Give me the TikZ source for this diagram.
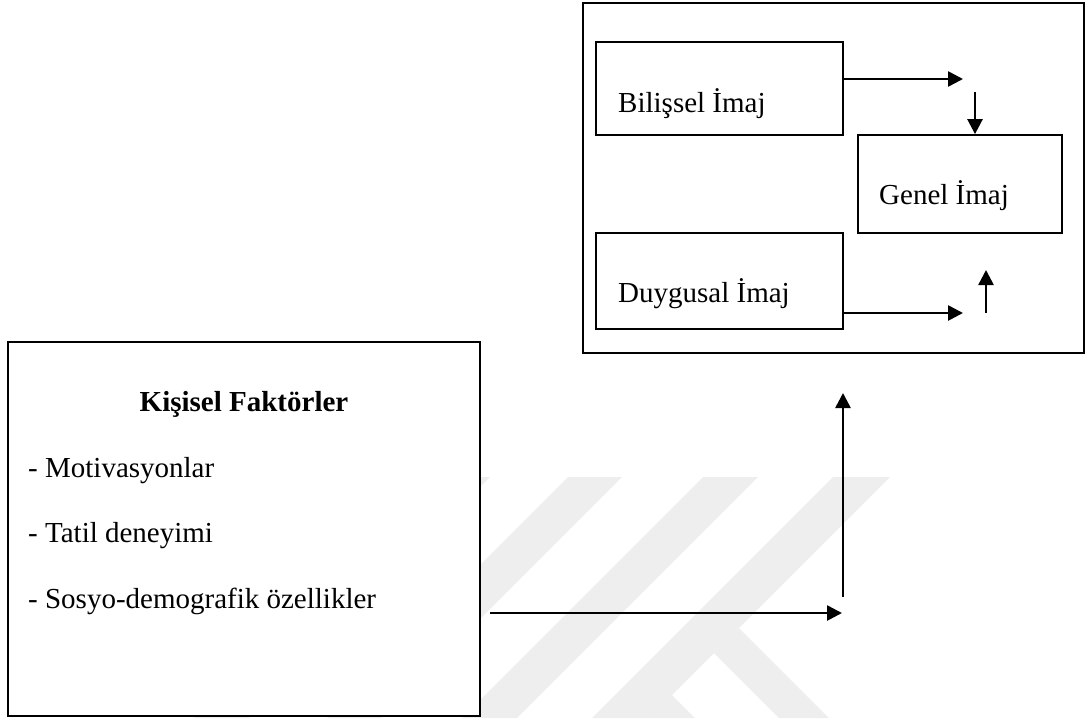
\documentclass[tikz,border=0pt]{standalone}
\usepackage{fontspec}
\setmainfont{Liberation Serif}
\usetikzlibrary{arrows.meta}
\definecolor{wmgray}{RGB}{238,238,238}
\begin{document}
\begin{tikzpicture}[x=1pt,y=-1pt,
  box/.style={draw,line width=1.8pt,fill=white,inner sep=0pt},
  lbl/.style={anchor=base west,inner sep=0pt,font=\fontsize{29}{34}\selectfont},
  arr/.style={line width=2.6pt,-{Triangle[length=15pt,width=15pt]}},
  wm/.style={fill=wmgray}]
\useasboundingbox (0,0) rectangle (1086,718);
% watermark
\fill[wm] (435,477) -- (490,477) -- (249,718) -- (194,718) -- cycle;
\fill[wm] (568,477) -- (622,477) -- (381,718) -- (327,718) -- cycle;
\fill[wm] (703,477) -- (758,477) -- (517,718) -- (462,718) -- cycle;
\fill[wm] (833,477) -- (890,477) -- (649,718) -- (592,718) -- cycle;
\fill[wm] (739,628) -- (829,718) -- (779,718) -- (714,653) -- cycle;
\fill[wm] (672,695) -- (695,718) -- (649,718) -- cycle;
% boxes
\node[box,minimum width=501pt,minimum height=350pt] (outer) at (833.5,178) {};
\node[box,minimum width=247pt,minimum height=93pt] (bil) at (719.5,88.5) {};
\node[box,minimum width=204pt,minimum height=98pt] (gen) at (960,184) {};
\node[box,minimum width=247pt,minimum height=96pt] (duy) at (719.5,281) {};
\node[box,minimum width=472pt,minimum height=374pt] (kis) at (244,529) {};
% texts
\node[lbl] (bilt) at (618,112) {Bilişsel İmaj};
\node[lbl] (gent) at (879,204) {Genel İmaj};
\node[lbl] (duyt) at (618,302) {Duygusal İmaj};
\node[lbl,anchor=base,font=\fontsize{29}{34}\selectfont\bfseries] (kist) at (244,411) {Kişisel Faktörler};
\node[lbl] (m1) at (28,477) {- Motivasyonlar};
\node[lbl] (m2) at (28,542) {- Tatil deneyimi};
\node[lbl] (m3) at (28,608) {- Sosyo-demografik özellikler};
% arrows
\coordinate (a1e) at (963,79);
\draw[arr] (a1e -| bil.east) -- (a1e);
\coordinate (a2s) at (975,92);
\draw[arr] (a2s) -- (a2s |- gen.north);
\coordinate (a3e) at (963,313);
\draw[arr] (a3e -| duy.east) -- (a3e);
\coordinate (a4s) at (986,313);
\coordinate (a4e) at (986,270);
\draw[arr] (a4s) -- (a4e);
\coordinate (a5s) at (490,613);
\coordinate (a5e) at (842,613);
\draw[arr] (a5s) -- (a5e);
\coordinate (a6s) at (843,597);
\coordinate (a6e) at (843,393);
\draw[arr] (a6s) -- (a6e);
\end{tikzpicture}
\end{document}
